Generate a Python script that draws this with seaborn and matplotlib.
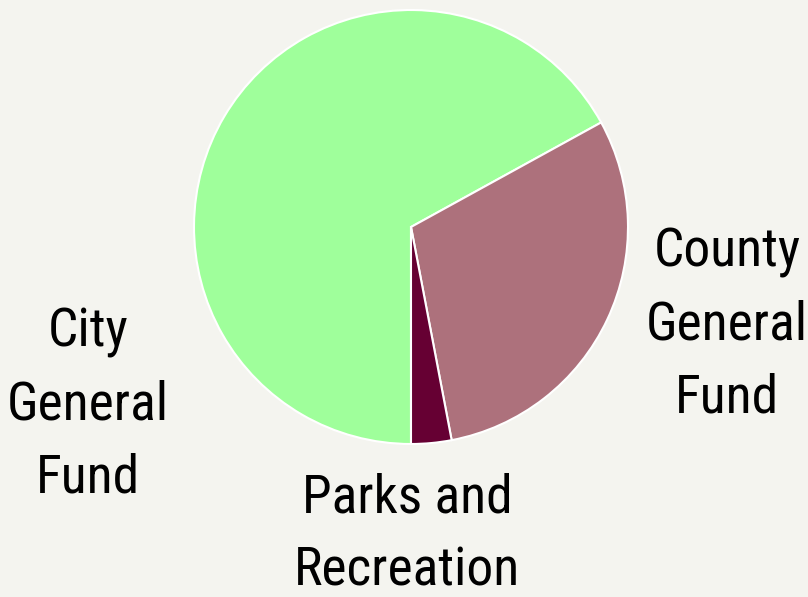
import matplotlib
matplotlib.use('Agg')
import matplotlib.pyplot as plt
import seaborn as sns
import warnings
warnings.filterwarnings('ignore')

# Données (parts en %)
labels = ['City\nGeneral\nFund', 'County\nGeneral\nFund', 'Parks and\nRecreation']
values = [67.0, 30.0, 3.0]
colors = ['#9fff9b', '#ad717c', '#660033']

# Position des étiquettes (px dans l'image, x centre / y ligne de base dernière ligne)
label_px = [(88, 492), (727, 412), (407, 585)]

W, H = 808, 597
cx, cy, r = 411, 227, 217
bg = '#f4f4ef'

sns.set_theme(style='white', rc={'figure.facecolor': bg, 'axes.facecolor': bg})
plt.rcParams['font.family'] = ['Roboto Condensed', 'Liberation Sans Narrow', 'Roboto', 'DejaVu Sans']

fig = plt.figure(figsize=(W / 100, H / 100), dpi=100)
ax = fig.add_axes([0, 0, 1, 1])

ax.pie(values, colors=colors, startangle=270, counterclock=False,
       wedgeprops={'edgecolor': 'white', 'linewidth': 1.5})

ax.set_xlim(-cx / r, (W - cx) / r)
ax.set_ylim(-(H - cy) / r, cy / r)
ax.set_aspect('equal')
ax.axis('off')

for lab, (px, py) in zip(labels, label_px):
    ax.text((px - cx) / r, (cy - py) / r, lab, ha='center', va='baseline',
            fontsize=38.5, color='black', linespacing=1.54, multialignment='center')

fig.savefig('out.png', dpi=100, facecolor=bg)
